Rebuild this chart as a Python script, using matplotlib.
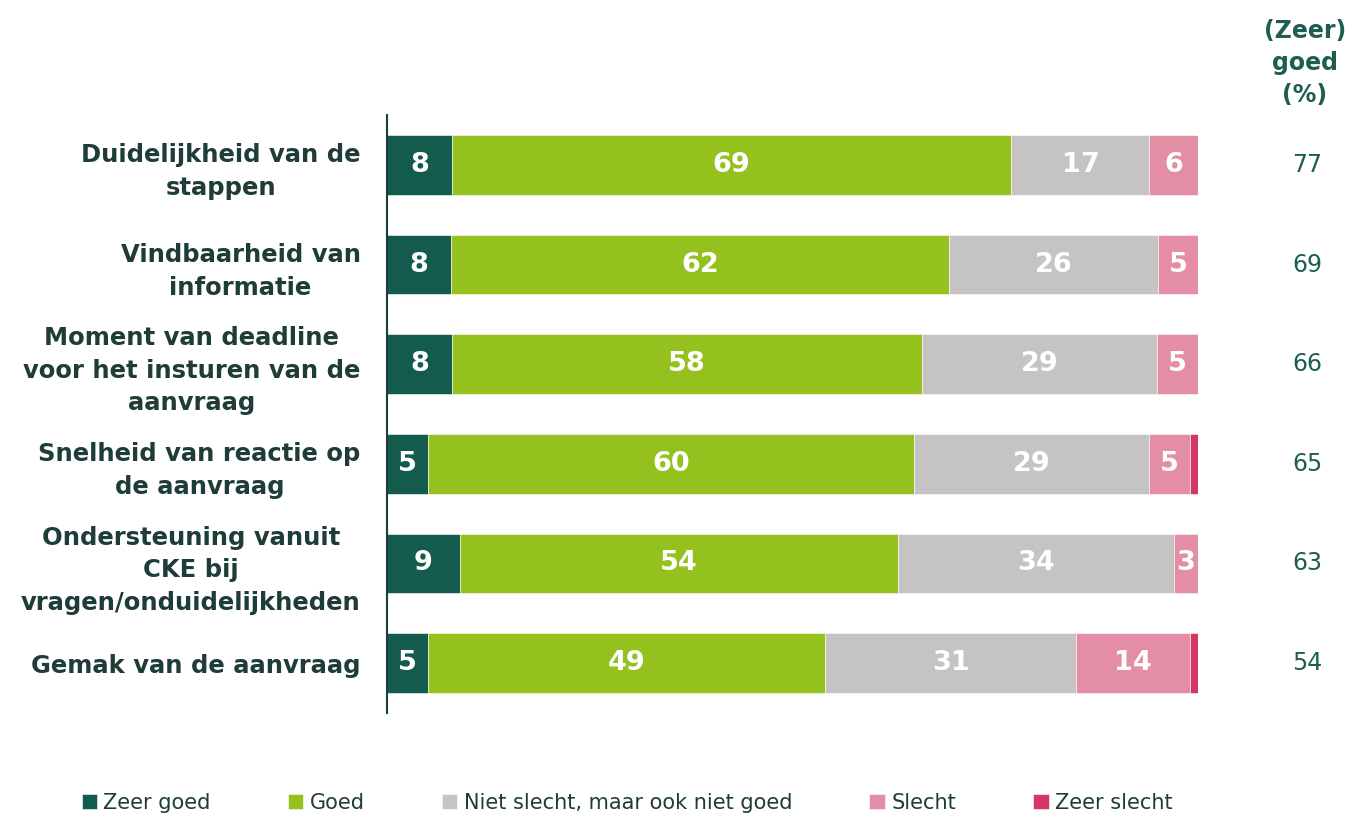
import matplotlib
matplotlib.use("Agg")
import matplotlib.pyplot as plt
import numpy as np

categories = [
    "Duidelijkheid van de\nstappen",
    "Vindbaarheid van\ninformatie",
    "Moment van deadline\nvoor het insturen van de\naanvraag",
    "Snelheid van reactie op\nde aanvraag",
    "Ondersteuning vanuit\nCKE bij\nvragen/onduidelijkheden",
    "Gemak van de aanvraag",
]
zeer_goed = [8, 8, 8, 5, 9, 5]
goed = [69, 62, 58, 60, 54, 49]
neutraal = [17, 26, 29, 29, 34, 31]
slecht = [6, 5, 5, 5, 3, 14]
zeer_slecht = [0, 0, 0, 1, 0, 1]
totaal_goed = [77, 69, 66, 65, 63, 54]

series_names = ["Zeer goed", "Goed", "Niet slecht, maar ook niet goed", "Slecht", "Zeer slecht"]
colors = ["#135B4C", "#95C11F", "#C5C3C3", "#E38EA5", "#D23862"]
label_color = "#1F3D38"
num_color = "#1E5E50"

fig = plt.figure(figsize=(13.5, 8.15), dpi=100)
ax = fig.add_axes([387/1350, 1-713/815, (1198-387)/1350, (713-115)/815])

data = np.array([zeer_goed, goed, neutraal, slecht, zeer_slecht], dtype=float)
totals = data.sum(axis=0)
widths = data / totals * 100
y = np.arange(len(categories))
left = np.zeros(len(categories))
for i, name in enumerate(series_names):
    ax.barh(y, widths[i], left=left, height=0.6, color=colors[i], label=name, edgecolor="white", linewidth=0.4)
    for j in range(len(categories)):
        if data[i, j] >= 2:
            ax.text(left[j] + widths[i, j] / 2, y[j], f"{int(data[i, j])}", ha="center", va="center",
                    color="white", fontsize=19.5, fontweight="heavy")
    left += widths[i]

ax.set_xlim(0, 100)
ax.set_ylim(len(categories) - 0.5, -0.5)
ax.set_yticks(y)
ax.set_yticklabels(categories, fontsize=17.5, fontweight="bold", color=label_color,
                   linespacing=1.45, multialignment="center")
ax.tick_params(axis="y", length=0, pad=19)
ax.set_xticks([])
for s in ["top", "right", "bottom"]:
    ax.spines[s].set_visible(False)
ax.spines["left"].set_color("#1F3D38")
ax.spines["left"].set_linewidth(1.5)

for j, v in enumerate(totaal_goed):
    ax.text(113.5, y[j], f"{v}", ha="center", va="center", fontsize=17, color=num_color)

fig.text(1305/1350, 1-63/815, "(Zeer)\ngoed\n(%)", ha="center", va="center", fontsize=17,
         fontweight="bold", color=num_color, linespacing=1.42)

leg = fig.legend(loc="center", bbox_to_anchor=(627/1350, 1-803/815), ncol=5, frameon=False,
                 fontsize=15, handlelength=0.75, handleheight=0.75, handletextpad=0.3,
                 columnspacing=3.7, labelcolor=label_color)

fig.savefig("out.png", dpi=100)
